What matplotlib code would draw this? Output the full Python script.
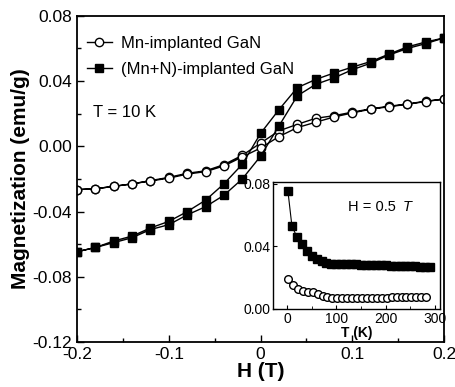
import matplotlib
matplotlib.use('Agg')
import matplotlib.pyplot as plt
from matplotlib.ticker import MultipleLocator

plt.rcParams['font.family'] = ['Liberation Sans', 'DejaVu Sans']
plt.rcParams['axes.unicode_minus'] = False

# field values of the loop (T)
H_down = [0.2, 0.18, 0.16, 0.14, 0.12, 0.10, 0.08, 0.06, 0.04, 0.02, 0.0,
          -0.02, -0.04, -0.06, -0.08, -0.10, -0.12, -0.14, -0.16, -0.18, -0.2]
H_up = [-0.2, -0.18, -0.16, -0.14, -0.12, -0.10, -0.08, -0.06, -0.04, -0.02, 0.0,
        0.02, 0.04, 0.06, 0.08, 0.10, 0.12, 0.14, 0.16, 0.18, 0.2]

# Mn-implanted GaN (open circles)
mn_down = [0.029, 0.0277, 0.026, 0.0246, 0.023, 0.021, 0.0188, 0.0172, 0.0135, 0.0095, 0.002,
           -0.0055, -0.0112, -0.015, -0.0165, -0.019, -0.021, -0.023, -0.0245, -0.026, -0.0265]
mn_up = [-0.0265, -0.026, -0.0245, -0.023, -0.0212, -0.0195, -0.017, -0.0155, -0.012, -0.0065, -0.001,
         0.006, 0.0115, 0.0148, 0.018, 0.0205, 0.0228, 0.0243, 0.0258, 0.0275, 0.029]

# (Mn+N)-implanted GaN (filled squares)
mnn_down = [0.0665, 0.064, 0.061, 0.0566, 0.052, 0.0486, 0.045, 0.041, 0.036, 0.0225, 0.008,
            -0.011, -0.023, -0.033, -0.040, -0.046, -0.050, -0.055, -0.058, -0.062, -0.0646]
mnn_up = [-0.0646, -0.062, -0.059, -0.056, -0.051, -0.048, -0.042, -0.037, -0.030, -0.020, -0.006,
          0.0125, 0.031, 0.038, 0.042, 0.047, 0.051, 0.056, 0.060, 0.063, 0.0665]

# inset: M(T) at H = 0.5 T
T_sq = [2, 10, 20, 30, 40, 50, 60, 70, 80, 90, 100, 110, 120, 130, 140, 150, 160, 170, 180,
        190, 200, 210, 220, 230, 240, 250, 260, 270, 280, 290]
M_sq = [0.075, 0.053, 0.046, 0.0415, 0.037, 0.034, 0.032, 0.0305, 0.0295, 0.029, 0.0288,
        0.0287, 0.0286, 0.0285, 0.0284, 0.0283, 0.0282, 0.0281, 0.028, 0.0279, 0.0278,
        0.0277, 0.0276, 0.0275, 0.0274, 0.0273, 0.0272, 0.0271, 0.027, 0.0268]
T_ci = [3, 12, 22, 32, 42, 52, 62, 72, 82, 92, 102, 112, 122, 132, 142, 152, 162, 172, 182,
        192, 202, 212, 222, 232, 242, 252, 262, 272, 282]
M_ci = [0.019, 0.0152, 0.0127, 0.0112, 0.0108, 0.011, 0.0098, 0.0082, 0.0074, 0.0072, 0.0071,
        0.0071, 0.0071, 0.0072, 0.0072, 0.0072, 0.0073, 0.0073, 0.0073, 0.0073, 0.0073,
        0.0074, 0.0074, 0.0074, 0.0074, 0.0074, 0.0074, 0.0075, 0.0075]

xticks = [-0.2, -0.1, 0, 0.1, 0.2]
xlabels = ['-0.2', '-0.1', '0', '0.1', '0.2']
yticks = [-0.12, -0.08, -0.04, 0.0, 0.04, 0.08]
ylabels = ['-0.12', '-0.08', '-0.04', '0.00', '0.04', '0.08']

fig = plt.figure(figsize=(4.56, 3.87), dpi=100)
ax = fig.add_axes([0.169, 0.116, 0.805, 0.843])

ax.plot(H_down + H_up, mn_down + mn_up, '-o', color='black', mfc='white', mec='black',
        ms=6, mew=1.0, lw=1.0, label='Mn-implanted GaN')
ax.plot(H_down + H_up, mnn_down + mnn_up, '-s', color='black', mfc='black', mec='black',
        ms=5.8, lw=1.0, label='(Mn+N)-implanted GaN')

ax.set_xlim(-0.2, 0.2)
ax.set_ylim(-0.12, 0.08)
ax.set_xticks(xticks)
ax.set_xticklabels(xlabels)
ax.set_yticks(yticks)
ax.set_yticklabels(ylabels)
ax.xaxis.set_minor_locator(MultipleLocator(0.05))
ax.yaxis.set_minor_locator(MultipleLocator(0.02))
ax.tick_params(which='both', direction='in', labelsize=12.5, top=False, right=False)
ax.tick_params(which='major', length=5, width=1)
ax.tick_params(which='minor', length=3, width=1)
for s in ax.spines.values():
    s.set_linewidth(1.3)
ax.set_xlabel('H (T)', fontsize=15, fontweight='bold', labelpad=0)
ax.set_ylabel('Magnetization (emu/g)', fontsize=15, fontweight='bold', labelpad=2)

ax.legend(loc='upper left', bbox_to_anchor=(0.008, 0.96), frameon=False, fontsize=12,
          handlelength=1.5, handletextpad=0.55, labelspacing=0.68, borderaxespad=0.2,
          borderpad=0.2)
ax.text(0.044, 0.703, 'T = 10 K', transform=ax.transAxes, fontsize=12, va='center')

# inset
ins = fig.add_axes([0.599, 0.2016, 0.366, 0.328])
ins.plot(T_sq, M_sq, '-s', color='black', mfc='black', ms=5.5, lw=0.8)
ins.plot(T_ci, M_ci, '-o', color='black', mfc='white', mec='black', ms=5.5, mew=1.0, lw=0.8)
ins.set_xlim(-28, 310)
ins.set_ylim(0, 0.081)
ins.set_xticks([0, 100, 200, 300])
ins.set_yticks([0.0, 0.04, 0.08])
ins.set_yticklabels(['0.00', '0.04', '0.08'])
ins.xaxis.set_minor_locator(MultipleLocator(50))
ins.tick_params(which='both', direction='in', labelsize=10, pad=2)
ins.tick_params(which='major', length=3)
ins.tick_params(which='minor', length=2)
for s in ins.spines.values():
    s.set_linewidth(1.0)
ins.set_xlabel('T (K)', fontsize=10, fontweight='bold', labelpad=0)
ins.text(0.45, 0.8, 'H = 0.5 ', transform=ins.transAxes, fontsize=10.5, va='center')
ins.text(0.775, 0.8, 'T', transform=ins.transAxes, fontsize=10.5, va='center', style='italic')

fig.savefig('out.png', dpi=100)
